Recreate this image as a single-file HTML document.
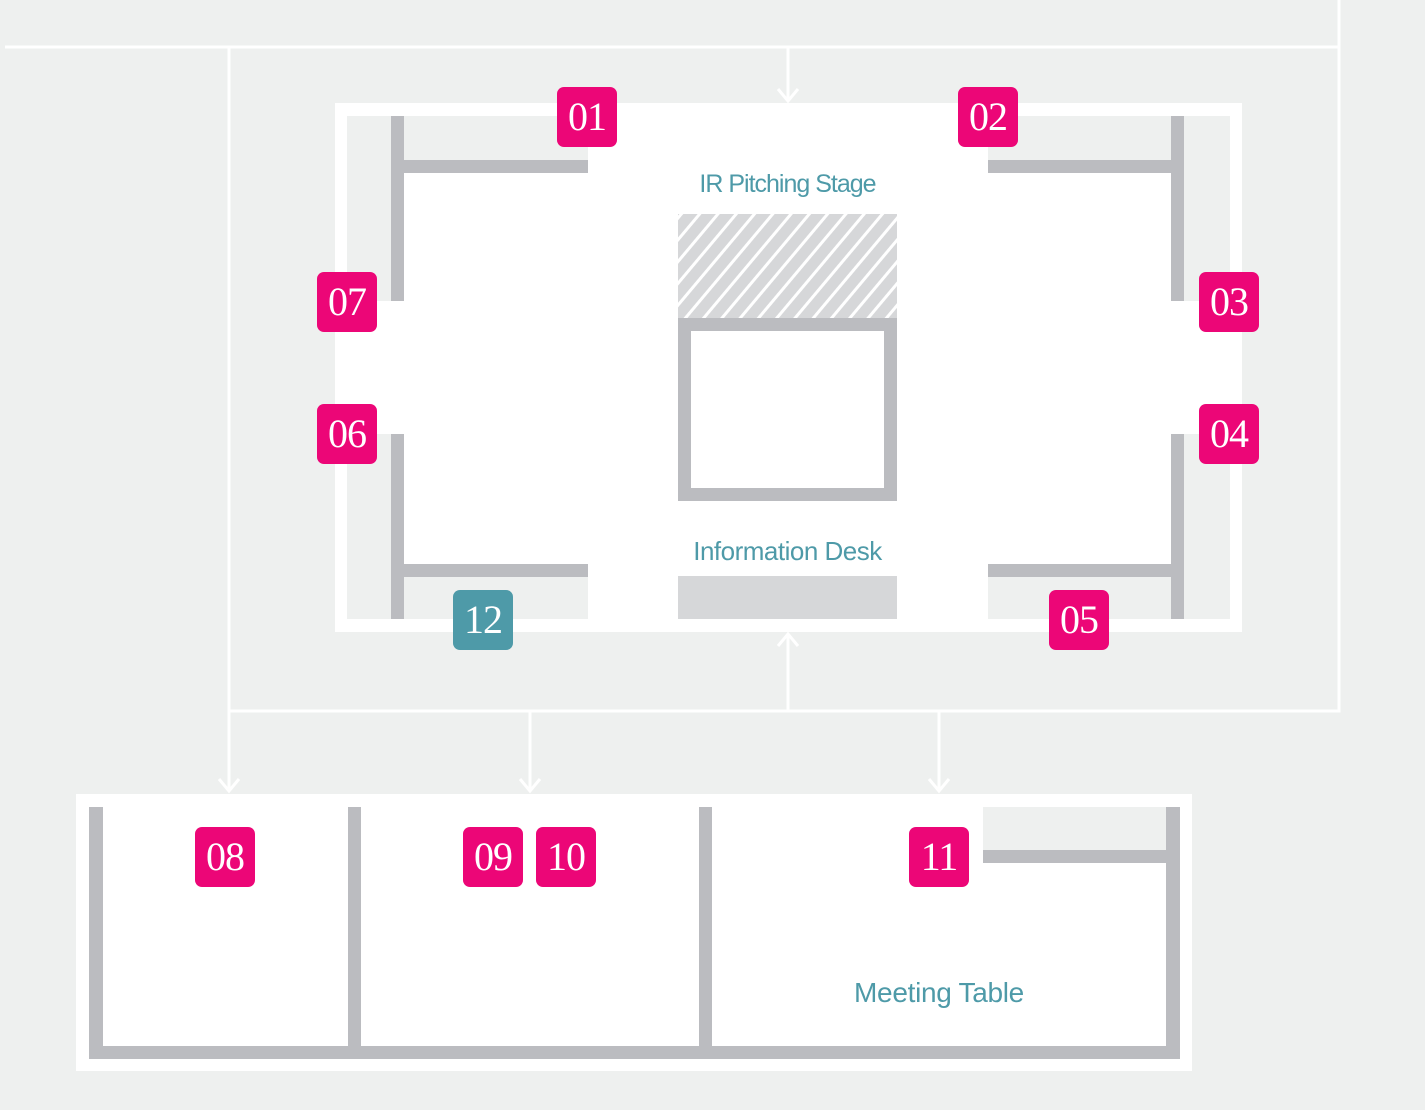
<!DOCTYPE html>
<html><head><meta charset="utf-8"><style>
html,body{margin:0;padding:0}
body{width:1425px;height:1110px;background:#eef0ef;position:relative;overflow:hidden;font-family:"Liberation Sans",sans-serif}
.b{position:absolute;width:60px;height:60px;border-radius:7px;background:#ec0677;color:#fff;font-family:"Liberation Serif",serif;font-size:40px;line-height:60px;text-align:center;letter-spacing:-1px}
.t{position:absolute;color:#4e9aa8;font-size:25px;letter-spacing:-1px;white-space:nowrap;text-align:center}
</style></head><body>
<svg width="1425" height="1110" style="position:absolute;left:0;top:0">
<defs><pattern id="h" width="14" height="14" patternUnits="userSpaceOnUse" patternTransform="rotate(40)"><rect width="14" height="14" fill="#d6d7d9"/><rect width="3" height="14" fill="#fff"/></pattern></defs>
<g fill="#fff">
<rect x="335" y="103" width="907" height="529"/>
<rect x="76" y="794" width="1116" height="277"/>
</g>
<g fill="#eef0ef">
<rect x="347" y="116" width="241" height="45"/><rect x="347" y="116" width="44" height="185"/>
<rect x="988" y="116" width="242" height="45"/><rect x="1184" y="116" width="46" height="185"/>
<rect x="347" y="576" width="241" height="43"/><rect x="347" y="434" width="44" height="185"/>
<rect x="988" y="576" width="242" height="43"/><rect x="1184" y="434" width="46" height="185"/>
<rect x="983" y="807" width="183" height="43"/>
</g>
<g fill="#bbbcc0">
<rect x="391" y="116" width="13" height="185"/><rect x="391" y="160" width="197" height="13"/>
<rect x="1171" y="116" width="13" height="185"/><rect x="988" y="160" width="196" height="13"/>
<rect x="391" y="434" width="13" height="185"/><rect x="391" y="564" width="197" height="13"/>
<rect x="1171" y="434" width="13" height="185"/><rect x="988" y="564" width="196" height="13"/>
<rect x="89" y="807" width="14" height="251"/><rect x="89" y="1046" width="1091" height="13"/>
<rect x="348" y="807" width="13" height="240"/><rect x="699" y="807" width="13" height="240"/>
<rect x="1166" y="807" width="14" height="252"/><rect x="983" y="850" width="197" height="13"/>
</g>
<rect x="678" y="214" width="219" height="104" fill="url(#h)"/>
<rect x="684.5" y="324.5" width="206" height="170" fill="#fff" stroke="#bbbcc0" stroke-width="13"/>
<rect x="678" y="576" width="219" height="43" fill="#d6d7d9"/>
<g stroke="#fff" stroke-width="3" fill="none">
<path d="M5 47H1339M1339 0V711H229M229 47V791M788 47V101M788 711V634M530 711V791M939 711V791"/>
<path d="M778 89L788 101L798 89M778 646L788 634L798 646M219 779L229 791L239 779M520 779L530 791L540 779M929 779L939 791L949 779"/>
</g>
</svg>
<div class="t" style="left:678px;top:170px;width:219px">IR Pitching Stage</div>
<div class="t" style="left:658px;top:536px;width:259px;font-size:26px;letter-spacing:-0.5px">Information Desk</div>
<div class="t" style="left:809px;top:977px;width:260px;font-size:28px;letter-spacing:-0.3px">Meeting Table</div>
<div class="b" style="left:557px;top:87px">01</div>
<div class="b" style="left:958px;top:87px">02</div>
<div class="b" style="left:317px;top:272px">07</div>
<div class="b" style="left:1199px;top:272px">03</div>
<div class="b" style="left:317px;top:404px">06</div>
<div class="b" style="left:1199px;top:404px">04</div>
<div class="b" style="left:453px;top:590px;background:#4e9aa8">12</div>
<div class="b" style="left:1049px;top:590px">05</div>
<div class="b" style="left:195px;top:827px">08</div>
<div class="b" style="left:463px;top:827px">09</div>
<div class="b" style="left:536px;top:827px">10</div>
<div class="b" style="left:909px;top:827px">11</div>
</body></html>
